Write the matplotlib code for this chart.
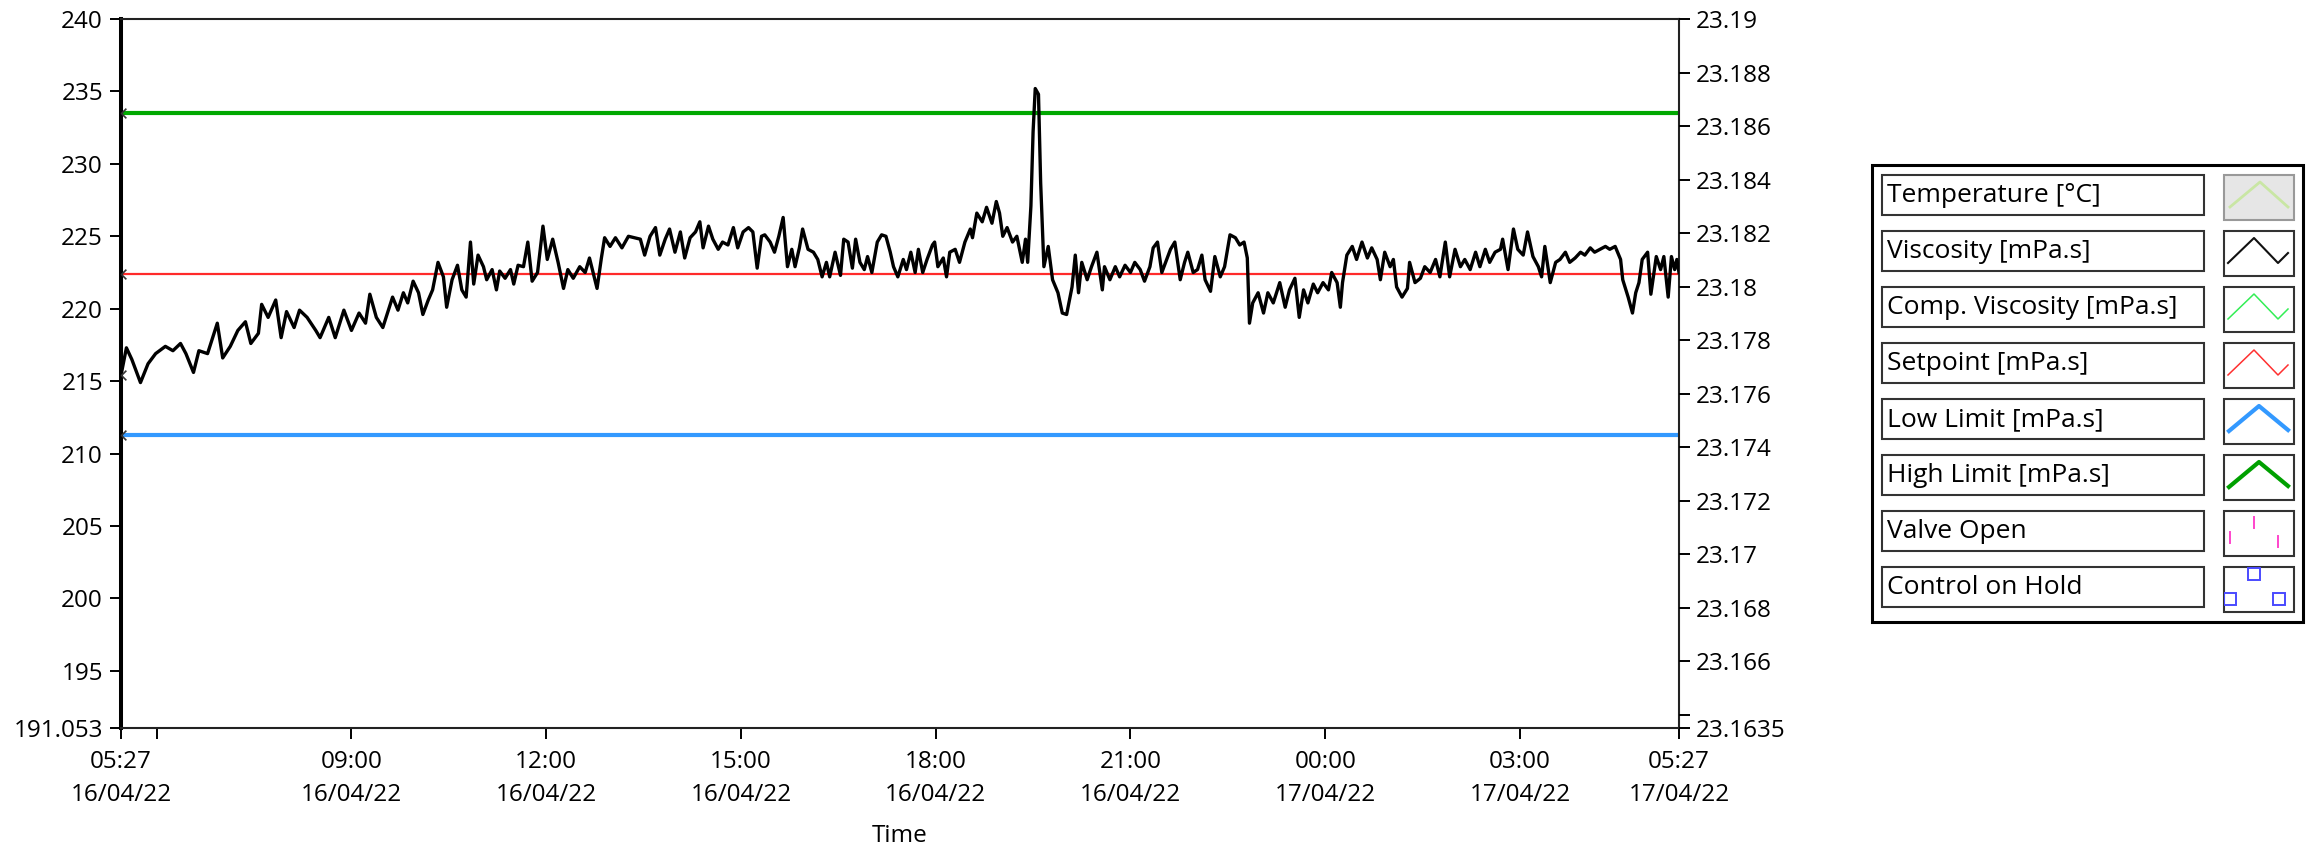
import matplotlib
matplotlib.use("Agg")
from datetime import datetime, timedelta

import matplotlib.pyplot as plt
import numpy as np
from matplotlib.patches import Rectangle
from matplotlib.path import Path

plt.rcParams["font.family"] = ["Open Sans", "DejaVu Sans"]

start = datetime(2022, 4, 16, 5, 27)
end = datetime(2022, 4, 17, 5, 27)

# minutes after 05:27 16/04/22
minutes = [
    0, 5, 10, 18, 25, 32, 41, 48, 55, 60, 67, 72, 80, 89, 94, 101, 108, 115, 120, 127,
    130, 136, 143, 148, 153, 160, 165, 172, 180, 184, 192, 198, 206, 213, 220, 226, 230, 236, 242,
    251, 256, 261, 265, 270, 275, 279, 284, 288, 293, 298, 301, 306, 311, 315, 319, 323, 326, 330,
    335, 338, 343, 347, 350, 355, 360, 363, 367, 372, 376, 380, 385, 390, 394, 399, 404, 409, 413,
    418, 424, 429, 433, 440, 444, 447, 452, 457, 463, 469,
    480, 484, 489, 494, 498, 503, 507, 512, 517, 521, 526, 531, 535, 538, 543, 547, 552, 556, 561,
    566, 570, 575, 580, 584, 588, 592, 595, 600, 604, 608, 612, 616, 620, 623, 627, 630, 635, 640,
    644, 648, 652, 655, 660, 665, 668, 672, 676, 679, 683, 687, 690, 694, 699, 703, 707, 711, 714,
    718, 723, 726, 730, 734, 737, 741, 745, 750, 752, 755, 760, 763, 766, 771, 775, 780, 785, 787,
    791, 796, 800, 805, 809, 812, 815, 819, 824, 828, 833, 836,
    838, 841, 843, 845, 848, 850, 853, 857, 861, 866, 870, 874, 879, 882, 885, 888, 893, 897, 902,
    907, 909, 914, 919, 923, 928, 933, 937, 942, 946, 951, 954, 958, 962,
    970, 974, 979, 983, 986, 991, 995, 999, 1002, 1007, 1011, 1016, 1020, 1025, 1030, 1034, 1038,
    1041, 1043, 1046, 1051, 1056, 1060, 1065, 1071, 1076, 1080, 1085, 1089, 1093, 1097, 1102, 1106,
    1111, 1116, 1119, 1124, 1127, 1129, 1133, 1138, 1142, 1147, 1152, 1156, 1161, 1164, 1168, 1173,
    1176, 1179, 1184, 1189, 1191, 1196, 1201, 1205, 1210, 1215, 1219, 1224, 1228, 1233, 1238, 1242,
    1247, 1252, 1256, 1261, 1265, 1270, 1275, 1277, 1282, 1287, 1291, 1296, 1300, 1305, 1310, 1313,
    1316, 1321, 1326, 1330, 1335, 1339, 1344, 1349, 1353, 1358, 1362, 1367, 1372, 1376, 1381, 1386,
    1388, 1393, 1397, 1400, 1403, 1406, 1411, 1414, 1419, 1423, 1426, 1430, 1433, 1436, 1438, 1440,
]
viscosity = [
    215.4, 217.3, 216.5, 214.9, 216.2, 216.9, 217.4, 217.1, 217.6, 216.9, 215.6, 217.1, 216.9, 219.0, 216.6, 217.4, 218.5, 219.1, 217.6, 218.3,
    220.3, 219.4, 220.6, 218.0, 219.8, 218.7, 219.9, 219.4, 218.5, 218.0, 219.4, 218.0, 219.9, 218.5, 219.7, 219.0, 221.0, 219.4, 218.7,
    220.8, 219.9, 221.1, 220.4, 221.9, 221.1, 219.6, 220.6, 221.3, 223.2, 222.2, 220.1, 222.0, 223.0, 221.3, 220.8, 224.6, 221.7, 223.7,
    222.9, 222.0, 222.7, 221.3, 222.6, 222.1, 222.7, 221.7, 223.0, 222.9, 224.6, 221.9, 222.5, 225.7, 223.4, 224.8, 223.2, 221.4, 222.7,
    222.1, 222.9, 222.5, 223.5, 221.4, 223.5, 224.9, 224.3, 224.9, 224.2, 225.0,
    224.8, 223.7, 225.0, 225.6, 223.7, 224.8, 225.5, 223.9, 225.3, 223.5, 224.9, 225.3, 226.0, 224.2, 225.7, 224.8, 224.1, 224.6, 224.4,
    225.6, 224.2, 225.3, 225.6, 225.3, 222.8, 225.0, 225.1, 224.6, 223.9, 225.0, 226.3, 222.9, 224.1, 222.9, 224.2, 225.5, 224.1, 223.9,
    223.4, 222.2, 223.2, 222.2, 223.9, 222.3, 224.8, 224.6, 222.8, 224.8, 223.2, 222.7, 223.6, 222.5, 224.6, 225.1, 225.0, 223.9, 222.9,
    222.2, 223.4, 222.7, 223.9, 222.5, 224.1, 222.5, 223.4, 224.4, 224.6, 222.9, 223.5, 222.2, 223.9, 224.1, 223.2, 224.6, 225.5, 224.9,
    226.6, 226.0, 227.0, 225.9, 227.4, 226.6, 225.0, 225.6, 224.6, 225.0, 223.2, 224.8,
    223.2, 227.1, 232.2, 235.2, 234.8, 228.7, 222.9, 224.3, 222.0, 221.1, 219.7, 219.6, 221.5, 223.7, 221.1, 223.2, 222.0, 222.9, 223.9,
    221.3, 222.9, 222.0, 222.9, 222.2, 223.0, 222.5, 223.2, 222.7, 221.9, 222.9, 224.2, 224.6, 222.5,
    224.1, 224.6, 222.0, 223.2, 223.9, 222.5, 222.7, 223.7, 222.0, 221.2, 223.6, 222.2, 222.9, 225.1, 224.9, 224.4, 224.6,
    223.5, 219.0, 220.4, 221.1, 219.7, 221.1, 220.4, 221.8, 220.1, 221.3, 222.1, 219.4, 221.3, 220.4, 221.7, 221.1,
    221.8, 221.3, 222.5, 221.8, 220.1, 221.8, 223.7, 224.3, 223.4, 224.6, 223.5, 224.2, 223.4, 222.0, 223.9, 222.9,
    223.4, 221.5, 220.8, 221.4, 223.2, 221.8, 222.1, 222.9, 222.5, 223.4, 222.2, 224.6, 222.2, 224.1, 222.9, 223.4,
    222.7, 223.9, 222.9, 224.1, 223.2, 223.9, 224.1, 224.8, 222.7, 225.5, 224.1, 223.7, 225.3, 223.6, 222.9, 222.2,
    224.3, 221.8, 223.2, 223.4, 223.9, 223.2, 223.5, 223.9, 223.7, 224.2, 223.9, 224.1, 224.3, 224.1, 224.3, 223.4,
    222.0, 220.8, 219.7, 221.1, 221.8, 223.4, 223.9, 221.0, 223.6, 222.7, 223.6, 220.8, 223.6, 222.7, 223.4, 222.5,
]

setpoint = 222.4
low_limit = 211.28
high_limit = 233.52

left_range = (191.053, 240)
left_ticks = [191.053, 195, 200, 205, 210, 215, 220, 225, 230, 235, 240]
right_range = (23.1635, 23.19)
right_ticks = [23.1635, 23.164, 23.166, 23.168, 23.17, 23.172, 23.174, 23.176,
               23.178, 23.18, 23.182, 23.184, 23.186, 23.188, 23.19]
right_hidden = [23.164]
tick_hours = [6, 9, 12, 15, 18, 21, 24, 27]
hidden_hours = [6]

legend_names = ["Temperature [°C]", "Viscosity [mPa.s]", "Comp. Viscosity [mPa.s]",
                "Setpoint [mPa.s]", "Low Limit [mPa.s]", "High Limit [mPa.s]",
                "Valve Open", "Control on Hold"]
legend_colors = ["#c9e6a4", "#111111", "#33ee55", "#ff3030", "#3399ff", "#00a000",
                 "#ff44cc", "#4a4aff"]

times = [start + timedelta(minutes=m) for m in minutes]

fig = plt.figure(figsize=(23.07, 8.51), dpi=100)
ax = fig.add_axes([121 / 2307, 1 - 728 / 851, 1558 / 2307, 709 / 851])

ax.axhline(high_limit, color="#00a800", lw=3.0, zorder=2)
ax.axhline(setpoint, color="#ff2a2a", lw=1.6, zorder=2)
ax.axhline(low_limit, color="#3399ff", lw=3.0, zorder=2)
ax.plot(times, viscosity, color="black", lw=2.4, zorder=3)

# little cursor arrows on the left edge
chevron = Path([(1, 1), (0, 0), (1, -1)], [Path.MOVETO, Path.LINETO, Path.LINETO])
for v in [high_limit, setpoint, low_limit, viscosity[0]]:
    ax.plot([start], [v], marker=chevron, ms=7, mew=1.2, mec="#333333", mfc="none",
            ls="none", clip_on=False, zorder=5)

ax.set_xlim(start, end)
ax.set_ylim(*left_range)
ax.set_yticks(left_ticks)
ax.set_yticklabels([f"{t:g}" for t in left_ticks])

xt = [start] + [start.replace(hour=0, minute=0) + timedelta(hours=h) for h in tick_hours] + [end]
xl = []
for t in xt:
    hrs = (t - start.replace(hour=0, minute=0)).total_seconds() / 3600
    if t not in (start, end) and hrs in hidden_hours:
        xl.append("")
    else:
        xl.append(t.strftime("%H:%M\n%d/%m/%y"))
ax.set_xticks(xt)
ax.set_xticklabels(xl, linespacing=1.5)

ax.tick_params(axis="both", direction="out", length=8, width=1.4, labelsize=17.5,
               colors="black")
ax.tick_params(axis="x", pad=8)
ax.tick_params(axis="y", pad=5)
ax.set_xlabel("Time", fontsize=17.5, labelpad=12)

for side in ["top", "right", "bottom"]:
    ax.spines[side].set_linewidth(1.5)
    ax.spines[side].set_color("#222222")
ax.spines["left"].set_linewidth(2.9)
ax.spines["left"].set_color("black")

ax2 = ax.twinx()
ax2.set_ylim(*right_range)
ax2.set_yticks(right_ticks)
ax2.set_yticklabels(["" if t in right_hidden else f"{t:g}" for t in right_ticks])
ax2.tick_params(axis="y", direction="out", length=8, width=1.4, labelsize=17.5, pad=4)
for side in ["top", "right", "bottom", "left"]:
    ax2.spines[side].set_visible(False)

# legend panel drawn in pixel space
lg = fig.add_axes([0, 0, 1, 1], zorder=10)
lg.set_xlim(0, 2307)
lg.set_ylim(851, 0)
lg.axis("off")
lg.patch.set_alpha(0)

lg.add_patch(Rectangle((1872, 165), 431, 457, fc="white", ec="black", lw=2.2))
for i, (name, color) in enumerate(zip(legend_names, legend_colors)):
    top = 175 + 56 * i
    lg.add_patch(Rectangle((1882, top), 322, 40, fc="white", ec="#333333", lw=1.5))
    lg.text(1887, top + 21, name, fontsize=19, va="center", ha="left")
    if i == 0:
        box = Rectangle((2224, top), 70, 45, fc="#e6e6e6", ec="#999999", lw=1.5)
    else:
        box = Rectangle((2224, top), 70, 45, fc="white", ec="#333333", lw=1.5)
    lg.add_patch(box)
    if i == 0:
        lg.plot([2230, 2260, 2288], [top + 32, top + 7, top + 32], color=color, lw=2)
    elif i in (1, 2, 3):
        lw = 1.5 if i == 1 else 1.1
        lg.plot([2228, 2254, 2278, 2288], [top + 32, top + 7, top + 32, top + 22],
                color=color, lw=lw)
    elif i in (4, 5):
        lg.plot([2229, 2259, 2288], [top + 32, top + 7, top + 31], color=color, lw=3)
    elif i == 6:
        for x0, y0 in [(2230, 21), (2254, 6), (2278, 25)]:
            lg.plot([x0, x0], [top + y0, top + y0 + 11], color=color, lw=1.4)
    else:
        sq = lg.plot([2254, 2230, 2279], [top + 7, top + 32, top + 32], ls="none",
                     marker="s", ms=8, mfc="none", mec=color, mew=1.4)[0]
        sq.set_clip_path(box)

fig.savefig("out.png", dpi=100)
